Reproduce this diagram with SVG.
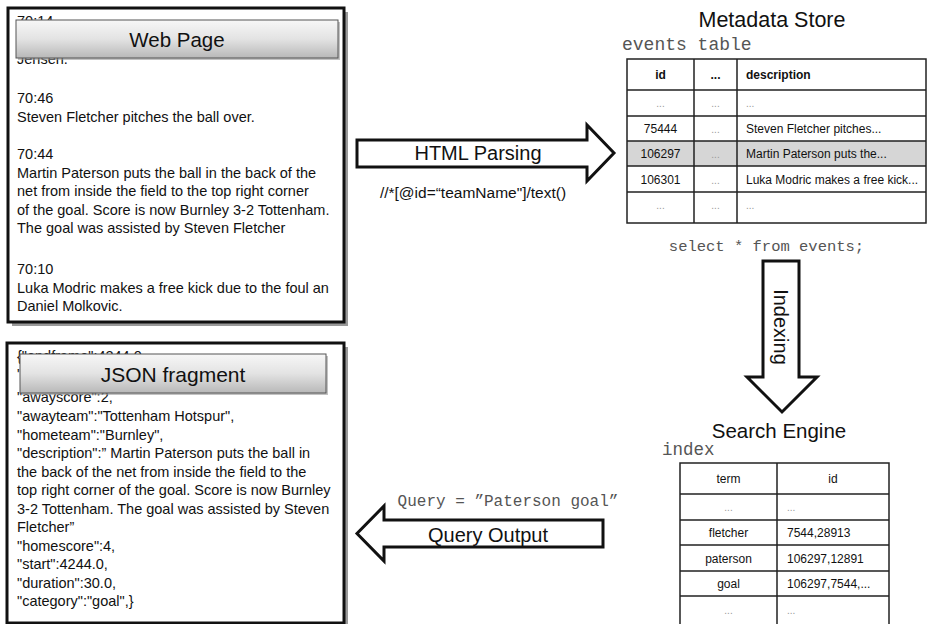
<svg xmlns="http://www.w3.org/2000/svg" width="929" height="624" viewBox="0 0 929 624">
<defs>
<linearGradient id="hdr" x1="0" y1="0" x2="0" y2="1">
<stop offset="0" stop-color="#f7f7f7"/>
<stop offset="0.5" stop-color="#e3e3e3"/>
<stop offset="1" stop-color="#b8b8b8"/>
</linearGradient>
<style>
.t{font-family:"Liberation Sans",Arial,sans-serif;fill:#111}
.body{font-size:14.5px}
.mono{font-family:"Liberation Mono","Courier New",monospace;fill:#555}
.box{fill:#fff;stroke:#111;stroke-width:3}
.shadow{fill:#9a9a9a}
.hdr{fill:url(#hdr);stroke:#555;stroke-width:1}
.cell{fill:none;stroke:#222;stroke-width:1.5}
.tc{font-size:12px}
.dots{font-size:10px;fill:#999}
.arrow{fill:#fff;stroke:#111;stroke-width:3;stroke-linejoin:miter}
.title{font-size:20.5px}
</style>
</defs>
<rect width="929" height="624" fill="#fff"/>

<g id="web-page">
<rect class="shadow" x="12" y="12" width="336" height="314"/>
<rect class="box" x="8" y="8" width="336" height="314"/>
<text class="t body" x="17" y="26">70:14</text>
<text class="t body" x="17" y="64">Jensen.</text>
<rect class="shadow" x="18" y="22" width="322" height="38" opacity="0.6"/>
<rect class="hdr" x="16" y="20" width="322" height="38"/>
<text class="t" x="177" y="47" font-size="20.5" text-anchor="middle">Web Page</text>
<text class="t body" x="17" y="103">70:46</text>
<text class="t body" x="17" y="121.5">Steven Fletcher pitches the ball over.</text>
<text class="t body" x="17" y="159">70:44</text>
<text class="t body" x="17" y="177.5">Martin Paterson puts the ball in the back of the</text>
<text class="t body" x="17" y="196">net from inside the field to the top right corner</text>
<text class="t body" x="17" y="214.5">of the goal. Score is now Burnley 3-2 Tottenham.</text>
<text class="t body" x="17" y="233">The goal was assisted by Steven Fletcher</text>
<text class="t body" x="17" y="274">70:10</text>
<text class="t body" x="17" y="292.5">Luka Modric makes a free kick due to the foul an</text>
<text class="t body" x="17" y="311">Daniel Molkovic.</text>
</g>

<g id="json-fragment">
<rect class="shadow" x="11" y="347" width="337" height="280"/>
<rect class="box" x="7" y="343" width="337" height="280"/>
<text class="t body" x="17" y="361">{"endframe":4244.0,</text>
<text class="t body" x="17" y="379">"</text>
<text class="t body" x="17" y="402">"awayscore":2,</text>
<rect class="shadow" x="22" y="356" width="306" height="39" opacity="0.6"/>
<rect class="hdr" x="20" y="354" width="306" height="39"/>
<text class="t" x="173" y="382" font-size="21" text-anchor="middle">JSON fragment</text>
<text class="t body" x="17" y="421">"awayteam":"Tottenham Hotspur",</text>
<text class="t body" x="17" y="439.5">"hometeam":"Burnley",</text>
<text class="t body" x="17" y="458">"description":” Martin Paterson puts the ball in</text>
<text class="t body" x="17" y="476.5">the back of the net from inside the field to the</text>
<text class="t body" x="17" y="495">top right corner of the goal. Score is now Burnley</text>
<text class="t body" x="17" y="513.5">3-2 Tottenham. The goal was assisted by Steven</text>
<text class="t body" x="17" y="532">Fletcher”</text>
<text class="t body" x="17" y="550.5">"homescore":4,</text>
<text class="t body" x="17" y="569">"start":4244.0,</text>
<text class="t body" x="17" y="587.5">"duration":30.0,</text>
<text class="t body" x="17" y="606">"category":"goal",}</text>
</g>

<g id="metadata-store">
<text class="t" x="772" y="27" font-size="21.5" text-anchor="middle">Metadata Store</text>
<text class="mono" x="622" y="50" font-size="18">events table</text>
<rect x="627" y="141" width="299" height="25" fill="#d6d6d6"/>
<rect class="cell" x="627" y="59" width="299" height="164"/>
<path class="cell" d="M627 90H926M627 116H926M627 141H926M627 166H926M627 192H926M694 59V223M737 59V223"/>
<text class="t tc" x="660.5" y="79" text-anchor="middle" font-weight="bold">id</text>
<text class="t tc" x="715.5" y="79" text-anchor="middle" font-weight="bold">...</text>
<text class="t tc" x="746" y="79" font-weight="bold">description</text>
<text class="t dots" x="660.5" y="107" text-anchor="middle">...</text>
<text class="t dots" x="715.5" y="107" text-anchor="middle">...</text>
<text class="t dots" x="746" y="107">...</text>
<text class="t tc" x="660.5" y="133" text-anchor="middle">75444</text>
<text class="t dots" x="715.5" y="133" text-anchor="middle">...</text>
<text class="t tc" x="746" y="133">Steven Fletcher pitches...</text>
<text class="t tc" x="660.5" y="158" text-anchor="middle">106297</text>
<text class="t dots" x="715.5" y="158" text-anchor="middle">...</text>
<text class="t tc" x="746" y="158">Martin Paterson puts the...</text>
<text class="t tc" x="660.5" y="184" text-anchor="middle">106301</text>
<text class="t dots" x="715.5" y="184" text-anchor="middle">...</text>
<text class="t tc" x="746" y="184">Luka Modric makes a free kick...</text>
<text class="t dots" x="660.5" y="209" text-anchor="middle">...</text>
<text class="t dots" x="715.5" y="209" text-anchor="middle">...</text>
<text class="t dots" x="746" y="209">...</text>
</g>

<g id="search-engine">
<text class="t title" x="779" y="438" text-anchor="middle">Search Engine</text>
<text class="mono" x="662" y="455" font-size="17.5">index</text>
<rect class="cell" x="680" y="463" width="209" height="166"/>
<path class="cell" d="M680 494H889M680 520H889M680 545H889M680 571H889M680 596H889M777 463V629"/>
<text class="t tc" x="728.5" y="483" text-anchor="middle">term</text>
<text class="t tc" x="833" y="483" text-anchor="middle">id</text>
<text class="t dots" x="728.5" y="511" text-anchor="middle">...</text>
<text class="t dots" x="787" y="511">...</text>
<text class="t tc" x="728.5" y="537" text-anchor="middle">fletcher</text>
<text class="t tc" x="787" y="537">7544,28913</text>
<text class="t tc" x="728.5" y="563" text-anchor="middle">paterson</text>
<text class="t tc" x="787" y="563">106297,12891</text>
<text class="t tc" x="728.5" y="588" text-anchor="middle">goal</text>
<text class="t tc" x="787" y="588">106297,7544,...</text>
<text class="t dots" x="728.5" y="614" text-anchor="middle">...</text>
<text class="t dots" x="787" y="614">...</text>
</g>

<g id="connectors">
<g id="html-parsing">
<path class="arrow" d="M357 140H587V125L614 153L587 181V167H357Z"/>
<text class="t" x="478" y="160" font-size="20" text-anchor="middle">HTML Parsing</text>
<text class="t" x="473" y="198" font-size="15.5" text-anchor="middle">//*[@id=“teamName"]/text()</text>
</g>
<g id="indexing">
<text class="mono" x="766.5" y="251" font-size="15.5" text-anchor="middle">select * from events;</text>
<path class="arrow" d="M763 261H799V377H817L782 412L747 377H763Z"/>
<text class="t" x="0" y="0" font-size="20" text-anchor="middle" transform="translate(774 327) rotate(90)">Indexing</text>
</g>
<g id="query-output">
<text class="mono" x="508" y="506" font-size="16" text-anchor="middle">Query = ”Paterson goal”</text>
<path class="arrow" d="M603 520V547H384V561L357 533.5L384 506V520Z"/>
<text class="t" x="488" y="542" font-size="20" text-anchor="middle">Query Output</text>
</g>
</g>
</svg>
